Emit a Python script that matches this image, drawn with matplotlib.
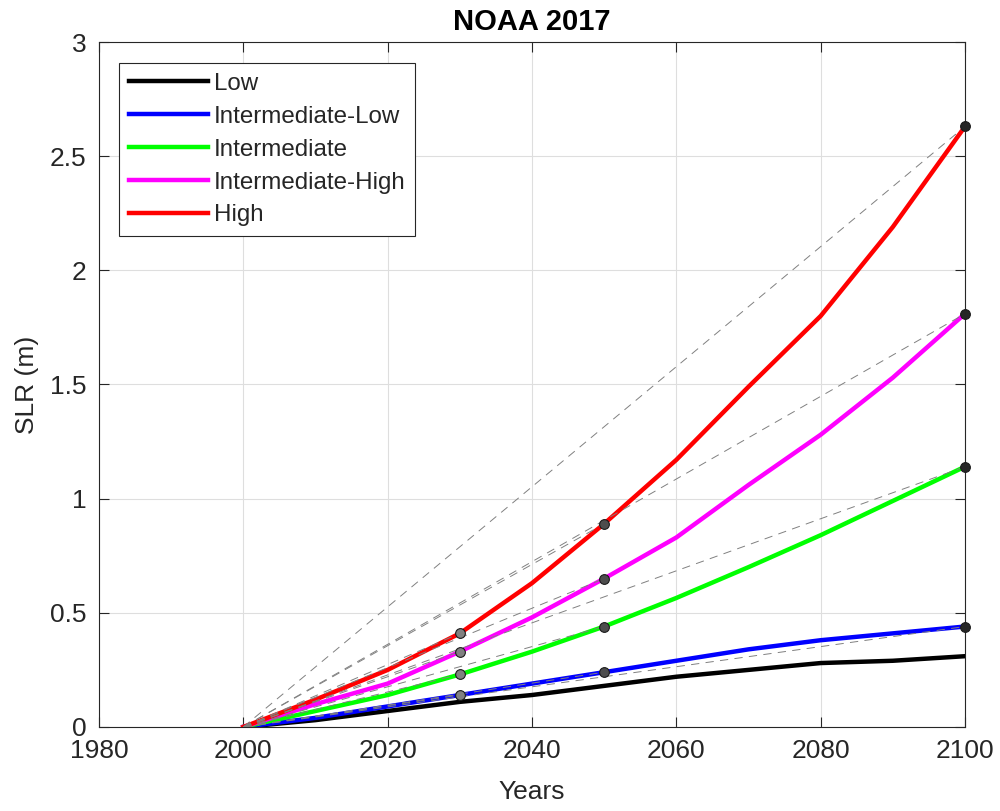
import matplotlib
matplotlib.use("Agg")
import matplotlib.pyplot as plt
import numpy as np

plt.rcParams['font.family'] = ['Liberation Sans', 'DejaVu Sans']

years = [2000, 2010, 2020, 2030, 2040, 2050, 2060, 2070, 2080, 2090, 2100]

scenario_names = ["Low", "Intermediate-Low", "Intermediate", "Intermediate-High", "High"]
scenario_colors = ["#000000", "#0000ff", "#00ff00", "#ff00ff", "#ff0000"]

slr_low = [0.0, 0.03, 0.07, 0.11, 0.14, 0.18, 0.22, 0.25, 0.28, 0.29, 0.31]
slr_int_low = [0.0, 0.04, 0.09, 0.14, 0.19, 0.24, 0.29, 0.34, 0.38, 0.41, 0.44]
slr_int = [0.0, 0.07, 0.14, 0.23, 0.33, 0.44, 0.565, 0.70, 0.84, 0.99, 1.14]
slr_int_high = [0.0, 0.10, 0.19, 0.33, 0.48, 0.65, 0.83, 1.06, 1.28, 1.53, 1.81]
slr_high = [0.0, 0.12, 0.25, 0.41, 0.63, 0.89, 1.17, 1.49, 1.80, 2.19, 2.63]

# key horizon years and the scenarios that get reference markers there
key_years = [2030, 2050, 2100]
key_face = ["#808080", "#4d4d4d", "#262626"]
marked = [1, 2, 3, 4]

series = [slr_low, slr_int_low, slr_int, slr_int_high, slr_high]

ink = "#262626"

fig = plt.figure(figsize=(10, 8.11), dpi=100)
ax = fig.add_axes([0.099, 0.1036, 0.866, 0.8446])

for name, col, vals in zip(scenario_names, scenario_colors, series):
    ax.plot(years, vals, color=col, lw=3.2, label=name, zorder=3)

# straight reference lines from the 2000 baseline to each key point
for i in marked:
    for ky in key_years:
        v = series[i][years.index(ky)]
        ax.plot([years[0], ky], [series[i][0], v], color="#808080", lw=0.7,
                ls=(0, (8.5, 6.5)), zorder=4)

for i in marked:
    for ky, fc in zip(key_years, key_face):
        v = series[i][years.index(ky)]
        ax.plot([ky], [v], marker="o", ms=7, mfc=fc, mec="#1a1a1a", mew=0.8,
                ls="none", zorder=5, clip_on=False)

ax.set_xlim(1980, 2100)
ax.set_ylim(0, 3)
ax.set_xticks(np.arange(1980, 2101, 20))
ax.set_yticks([0, 0.5, 1, 1.5, 2, 2.5, 3])
ax.set_yticklabels(["0", "0.5", "1", "1.5", "2", "2.5", "3"])
ax.grid(True, color="#dedede", lw=0.8)
ax.set_axisbelow(True)
ax.tick_params(direction="in", top=True, right=True, length=7, width=0.8,
               labelsize=19, colors=ink)
ax.tick_params(axis="x", pad=9)
ax.tick_params(axis="y", pad=9)
for s in ax.spines.values():
    s.set_color(ink)
    s.set_linewidth(0.8)

ax.set_xlabel("Years", fontsize=19, color=ink, labelpad=12)
ax.set_ylabel("SLR (m)", fontsize=19, color=ink, labelpad=8)
ax.set_title("NOAA 2017", fontsize=21, fontweight="bold", color="#000000", pad=9)

leg = ax.legend(loc="upper left", bbox_to_anchor=(0.023, 0.969), borderaxespad=0,
                fontsize=17.4, handlelength=3.27, handletextpad=0.25,
                borderpad=0.4, labelspacing=0.45, fancybox=False, framealpha=1,
                edgecolor=ink)
leg.get_frame().set_linewidth(0.8)
for t in leg.get_texts():
    t.set_color(ink)

fig.savefig("out.png", dpi=100)
